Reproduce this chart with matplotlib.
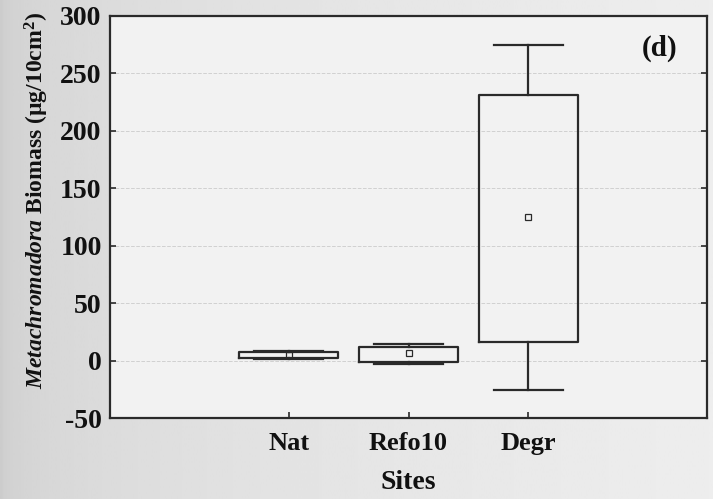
import matplotlib
matplotlib.use("Agg")
import matplotlib.pyplot as plt
import numpy as np

# ── Data ─────────────────────────────────────────────────────────────────────
sites    = ["Nat", "Refo10", "Degr"]
means    = [5.0, 6.5, 125.0]
box_lo   = [2.0, -1.5, 16.5]
box_hi   = [7.5, 12.0, 231.0]
whisk_lo = [1.0, -3.0, -26.0]
whisk_hi = [8.5, 14.5, 274.5]
yticks   = [-50, 0, 50, 100, 150, 200, 250, 300]

plt.rcParams["font.family"] = "Liberation Serif"
plt.rcParams["axes.unicode_minus"] = False
plt.rcParams["mathtext.fontset"] = "custom"
plt.rcParams["mathtext.rm"] = "Liberation Serif:bold"
plt.rcParams["mathtext.it"] = "Liberation Serif:italic:bold"
plt.rcParams["mathtext.bf"] = "Liberation Serif:bold"

INK = "#111111"
LINE = "#2a2a2a"

fig = plt.figure(figsize=(7.13, 4.99), dpi=100, facecolor="#e6e6e6")

# scanned-page shading behind everything (darker on the left edge)
bg = fig.add_axes([0, 0, 1, 1], zorder=-10)
shade = 0.80 + 0.13 * np.linspace(0, 1, 256) ** 0.4
bg.imshow(shade[None, :], aspect="auto", cmap="gray", vmin=0, vmax=1,
          extent=[0, 1, 0, 1])
bg.axis("off")

ax = fig.add_axes([0.1543, 0.1623, 0.8373, 0.8057])
ax.set_facecolor("#f2f2f2")

stats = []
for i, name in enumerate(sites):
    stats.append({
        "label": name,
        "mean": means[i],
        "med": means[i],
        "q1": box_lo[i],
        "q3": box_hi[i],
        "whislo": whisk_lo[i],
        "whishi": whisk_hi[i],
        "fliers": [],
    })

ax.bxp(stats, positions=[1, 2, 3], widths=0.82, capwidths=0.575,
       showmeans=True, showfliers=False,
       boxprops=dict(color=LINE, lw=1.6),
       whiskerprops=dict(color=LINE, lw=1.6),
       capprops=dict(color=LINE, lw=1.6),
       medianprops=dict(lw=0),
       meanprops=dict(marker="s", markersize=5, markerfacecolor="none",
                      markeredgecolor=LINE, markeredgewidth=0.9))

ax.set_xlim(-0.49, 4.49)
ax.set_ylim(-50, 300)
ax.set_yticks(yticks)
ax.set_xticks([1, 2, 3])
ax.set_xticklabels(sites)

ax.yaxis.grid(True, color="#d0d0d0", lw=0.7, ls="--")
ax.set_axisbelow(True)

ax.tick_params(direction="in", right=True, top=False, length=4,
               width=1.2, colors=LINE, labelcolor=INK,
               labelsize=20, pad=6)
ax.tick_params(axis="x", labelsize=19, pad=10)
for lab in ax.get_xticklabels() + ax.get_yticklabels():
    lab.set_fontweight("bold")
for sp in ax.spines.values():
    sp.set_color(LINE)
    sp.set_linewidth(1.6)

ax.set_xlabel("Sites", fontsize=20, fontweight="bold", color=INK, labelpad=11)
ax.set_ylabel(r"$\it{Metachromadora}$ Biomass (µg/10cm$^2$)",
              fontsize=17, fontweight="bold", color=INK)
ax.yaxis.set_label_coords(-0.099, 0.542)

ax.text(0.921, 0.92, "(d)", transform=ax.transAxes, fontsize=21,
        fontweight="bold", color=INK, ha="center", va="center")

fig.savefig("out.png", dpi=100, facecolor=fig.get_facecolor())
